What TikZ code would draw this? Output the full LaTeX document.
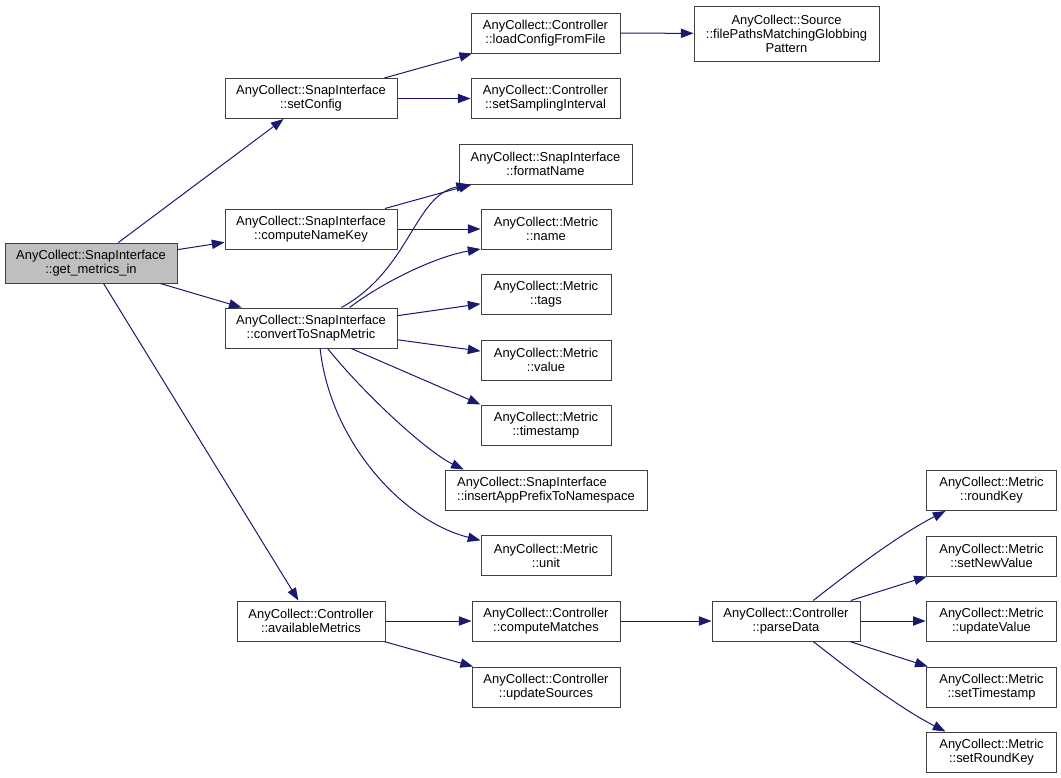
\documentclass[tikz,border=0pt]{standalone}
\usepackage{fontspec}
\setmainfont{Liberation Sans}
\usepackage{xcolor}
\definecolor{EdgeBlue}{HTML}{191970}
\definecolor{NodeGrey}{HTML}{BFBFBF}
\definecolor{FrameGrey}{HTML}{404040}
\usetikzlibrary{arrows.meta, positioning}

\begin{document}
\begin{tikzpicture}[
  x=0.75pt, y=-0.75pt,
  callee/.style={rectangle, draw=FrameGrey, fill=#1, line width=0.75pt, inner sep=0pt,
    font=\fontsize{9.7}{10.5}\selectfont, align=center, minimum height=30pt},
  callee/.default=white,
  rel/.style={-{Triangle[length=9.5pt, width=7pt]}, line width=0.75pt, draw=EdgeBlue},
]
\useasboundingbox (0, 0) rectangle (1061, 778);

%% -- Caller and first level  ------------------------------------
\node[callee=NodeGrey, minimum width=129pt] at (91, 263) (gm) {AnyCollect::SnapInterface\\::get\_metrics\_in};

\node[callee, minimum width=129pt] at (311, 98.5) (sc)  {AnyCollect::SnapInterface\\::setConfig};
\node[callee, minimum width=129pt] at (311, 229)  (cnk) {AnyCollect::SnapInterface\\::computeNameKey};
\node[callee, minimum width=129pt] at (311, 328)  (cts) {AnyCollect::SnapInterface\\::convertToSnapMetric};
\node[callee, minimum width=111pt] at (311, 621)  (am)  {AnyCollect::Controller\\::availableMetrics};

%% -- Second level  ----------------------------------------------
\node[callee, minimum width=111.75pt] at (545.5, 33)   (lcf) {AnyCollect::Controller\\::loadConfigFromFile};
\node[callee, minimum width=111.75pt] at (545.5, 98.5) (ssi) {AnyCollect::Controller\\::setSamplingInterval};
\node[callee, minimum width=129.75pt] at (545.5, 164)  (fn)  {AnyCollect::SnapInterface\\::formatName};
\node[callee, minimum width=138.75pt, minimum height=41.25pt] at (786.5, 33.5) (fps)
  {AnyCollect::Source\\::filePathsMatchingGlobbing\\Pattern};

\node[callee, minimum width=97.5pt] at (546, 229)   (mn)  {AnyCollect::Metric\\::name};
\node[callee, minimum width=97.5pt] at (546, 294.5) (mt)  {AnyCollect::Metric\\::tags};
\node[callee, minimum width=97.5pt] at (546, 360)   (mv)  {AnyCollect::Metric\\::value};
\node[callee, minimum width=97.5pt] at (546, 425)   (mts) {AnyCollect::Metric\\::timestamp};
\node[callee, minimum width=151.5pt, align=left] at (546, 490) (iap)
  {AnyCollect::SnapInterface\\::insertAppPrefixToNamespace};
\node[callee, minimum width=97.5pt] at (546, 555.5) (mu)  {AnyCollect::Metric\\::unit};

\node[callee, minimum width=111pt] at (546, 621) (cm) {AnyCollect::Controller\\::computeMatches};
\node[callee, minimum width=111pt] at (546, 687) (us) {AnyCollect::Controller\\::updateSources};

%% -- parseData and its callees  ---------------------------------
\node[callee, minimum width=111pt] at (786, 621) (pd) {AnyCollect::Controller\\::parseData};

\node[callee, minimum width=98pt] at (991.5, 490.5) (rk)  {AnyCollect::Metric\\::roundKey};
\node[callee, minimum width=98pt] at (991.5, 556)   (snv) {AnyCollect::Metric\\::setNewValue};
\node[callee, minimum width=98pt] at (991.5, 621)   (uv)  {AnyCollect::Metric\\::updateValue};
\node[callee, minimum width=98pt] at (991.5, 687)   (sts) {AnyCollect::Metric\\::setTimestamp};
\node[callee, minimum width=98pt] at (991.5, 752)   (srk) {AnyCollect::Metric\\::setRoundKey};

%% Calls
\draw[rel] (gm) -- (sc);
\draw[rel] (gm) -- (cnk);
\draw[rel] (gm) -- (cts);
\draw[rel] (gm) -- (am);

\draw[rel] (sc) -- (lcf);
\draw[rel] (sc) -- (ssi);
\draw[rel] (lcf) -- (fps);

\draw[rel] (cnk) -- (fn);
\draw[rel] (cnk) -- (mn);

\draw[rel] (cts.34) .. controls +(69,-38) and +(-55,11) .. (fn.195);
\draw[rel] (cts.28) .. controls +(37,-28) and +(-42,7) .. (mn.197);
\draw[rel] (cts) -- (mt);
\draw[rel] (cts) -- (mv);
\draw[rel] (cts.-27) -- (mts.north west);
\draw[rel] (cts.-51) .. controls +(38,47) and +(-37,-18) .. (iap.166);
\draw[rel] (cts.-66) .. controls +(10,92) and +(-79,-20) .. (mu.167);

\draw[rel] (am) -- (cm);
\draw[rel] (am) -- (us);
\draw[rel] (cm) -- (pd);

\draw[rel] (pd.37) .. controls +(37,-29) and +(-47,24) .. (rk.204);
\draw[rel] (pd) -- (snv);
\draw[rel] (pd) -- (uv);
\draw[rel] (pd) -- (sts);
\draw[rel] (pd.-37) .. controls +(37,29) and +(-47,-24) .. (srk.156);

\end{tikzpicture}
\end{document}
